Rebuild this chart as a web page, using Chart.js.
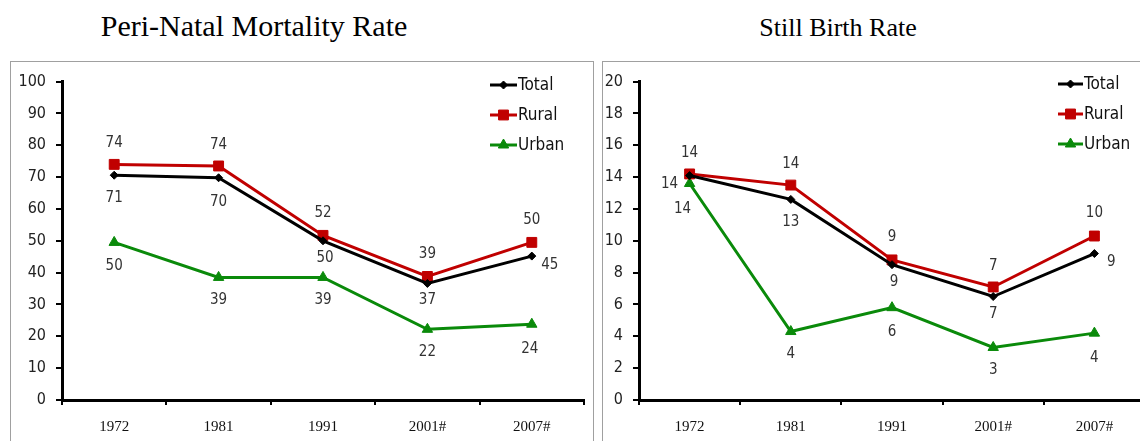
<!DOCTYPE html>
<html><head><meta charset="utf-8">
<script src="https://cdn.jsdelivr.net/npm/chart.js@4.4.1/dist/chart.umd.min.js"></script>
<style>
html,body{margin:0;padding:0;background:#fff;width:1140px;height:441px;overflow:hidden;position:relative;}
.title{position:absolute;font-family:"Liberation Serif","Times New Roman",serif;color:#000;white-space:nowrap;transform:translateX(-50%);}
.frame{position:absolute;top:61px;height:420px;border:1px solid #a0a0a0;}
.holder{position:absolute;top:62px;height:379px;}
canvas{display:block;}
</style></head><body>
<div class="title" style="left:254px;top:9px;font-size:30px">Peri-Natal Mortality Rate</div>
<div class="title" style="left:838px;top:13px;font-size:26px">Still Birth Rate</div>
<div class="frame" style="left:10px;width:582px"></div>
<div class="frame" style="left:602px;width:600px"></div>
<div class="holder" style="left:11px;width:581px"><canvas id="c1" width="581" height="379" style="width:581px;height:379px"></canvas></div>
<div class="holder" style="left:603px;width:550px"><canvas id="c2" width="550" height="379" style="width:550px;height:379px"></canvas></div>
<script>
// ---- data ----
const categories = ['1972', '1981', '1991', '2001#', '2007#'];
const seriesNames = ['Total', 'Rural', 'Urban'];
const pnmrTotal = [70.6, 69.8, 50.0, 36.6, 45.2];
const pnmrRural = [74.0, 73.5, 51.7, 38.8, 49.5];
const pnmrUrban = [49.5, 38.5, 38.5, 22.2, 23.8];
const sbrTotal = [14.1, 12.6, 8.5, 6.5, 9.2];
const sbrRural = [14.2, 13.5, 8.8, 7.1, 10.3];
const sbrUrban = [13.6, 4.3, 5.8, 3.3, 4.2];
const pnmrAxis = {max: 100, step: 10};
const sbrAxis = {max: 20, step: 2};

// ---- styles ----
const COLORS = ['#000000', '#c00000', '#0a8a0a'];
const STYLES = ['rectRot', 'rect', 'triangle'];
const RADII = [4, 7, 6];
const SANS = "'Liberation Sans Narrow','DejaVu Sans Condensed','Liberation Sans',sans-serif";
const SERIF = "'Liberation Serif','Times New Roman',serif";

// label placement offsets (dx, dy) per series per point
const pnmrPlace = [
  [[0,23],[0,24],[2,17],[0,17],[18,9]],
  [[0,-21],[0,-21],[0,-22],[0,-22],[0,-22]],
  [[0,24],[0,23],[0,23],[0,23],[-2,25]]
];
const sbrPlace = [
  [[-20,9],[0,23],[2,17],[0,18],[17,9]],
  [[0,-21],[0,-21],[0,-23],[0,-21],[0,-23]],
  [[-7,26],[0,23],[0,24],[0,23],[0,25]]
];

function drawMarker(ctx, style, radius, x, y, color) {
  ctx.fillStyle = color; ctx.strokeStyle = color; ctx.lineWidth = 1;
  if (Chart.helpers && Chart.helpers.drawPoint) {
    Chart.helpers.drawPoint(ctx, {pointStyle: style, radius: radius, rotation: 0, borderWidth: 1}, x, y);
    return;
  }
  ctx.beginPath();
  if (style === 'rect') { const s = radius * Math.SQRT1_2; ctx.rect(x - s, y - s, 2*s, 2*s); }
  else if (style === 'rectRot') { ctx.moveTo(x, y - radius); ctx.lineTo(x + radius, y); ctx.lineTo(x, y + radius); ctx.lineTo(x - radius, y); ctx.closePath(); }
  else { ctx.moveTo(x, y - radius); ctx.lineTo(x + radius*0.866, y + radius*0.5); ctx.lineTo(x - radius*0.866, y + radius*0.5); ctx.closePath(); }
  ctx.fill(); ctx.stroke();
}

const cornerLegend = {
  id: 'cornerLegend',
  afterDraw(chart, args, opts) {
    const ctx = chart.ctx;
    chart.data.datasets.forEach((ds, i) => {
      const y = opts.y + i * opts.dy;
      ctx.save();
      ctx.strokeStyle = ds.borderColor; ctx.lineWidth = 3;
      ctx.beginPath(); ctx.moveTo(opts.x, y); ctx.lineTo(opts.x + opts.len, y); ctx.stroke();
      drawMarker(ctx, ds.pointStyle, ds.pointRadius, opts.x + opts.len / 2, y, ds.borderColor);
      ctx.fillStyle = '#111';
      ctx.font = '17px ' + SANS;
      ctx.textAlign = 'left'; ctx.textBaseline = 'middle';
      ctx.fillText(ds.label, opts.x + opts.len + 1, y + 1);
      ctx.restore();
    });
  }
};

const valueLabels = {
  id: 'valueLabels',
  afterDatasetsDraw(chart, args, opts) {
    const ctx = chart.ctx;
    ctx.save();
    ctx.font = '15px ' + SANS;
    ctx.fillStyle = '#333';
    ctx.textAlign = 'center'; ctx.textBaseline = 'middle';
    chart.data.datasets.forEach((ds, i) => {
      const meta = chart.getDatasetMeta(i);
      meta.data.forEach((pt, j) => {
        const off = opts.place[i][j];
        ctx.fillText(String(Math.round(ds.data[j])), pt.x + off[0], pt.y + off[1]);
      });
    });
    ctx.restore();
  }
};

function makeChart(id, seriesList, axis, place, yWidth, legendPos) {
  const datasets = seriesList.map((vals, i) => ({
    label: seriesNames[i],
    data: vals,
    borderColor: COLORS[i],
    backgroundColor: COLORS[i],
    pointBackgroundColor: COLORS[i],
    pointBorderColor: COLORS[i],
    pointStyle: STYLES[i],
    pointRadius: RADII[i],
    pointBorderWidth: 1,
    borderWidth: 3,
    tension: 0,
    fill: false
  }));
  return new Chart(document.getElementById(id), {
    type: 'line',
    data: {labels: categories, datasets: datasets},
    options: {
      responsive: false,
      animation: false,
      devicePixelRatio: 1,
      layout: {padding: {top: 13, right: 0, bottom: 0, left: 0}},
      plugins: {
        legend: {display: false},
        tooltip: {enabled: false},
        cornerLegend: legendPos,
        valueLabels: {place: place}
      },
      scales: {
        x: {
          type: 'category',
          offset: true,
          grid: {offset: true, drawOnChartArea: false, drawTicks: true, tickLength: 5, color: '#000', lineWidth: 2},
          border: {display: true, color: '#000', width: 3},
          ticks: {font: {family: SERIF, size: 15}, color: '#111', padding: 13, maxRotation: 0, autoSkip: false},
          afterFit(s) { s.height = 41; }
        },
        y: {
          min: 0, max: axis.max,
          grid: {drawOnChartArea: false, drawTicks: true, tickLength: 6, color: '#000', lineWidth: 2},
          border: {display: true, color: '#000', width: 3},
          ticks: {stepSize: axis.step, font: {family: SANS, size: 16}, color: '#222', padding: 10},
          afterFit(s) { s.width = yWidth; }
        }
      }
    },
    plugins: [cornerLegend, valueLabels]
  });
}

makeChart('c1', [pnmrTotal, pnmrRural, pnmrUrban], pnmrAxis, pnmrPlace, 51, {x: 479, y: 23, dy: 30, len: 27});
makeChart('c2', [sbrTotal, sbrRural, sbrUrban], sbrAxis, sbrPlace, 36, {x: 455, y: 22, dy: 30, len: 25});
</script>
</body></html>
